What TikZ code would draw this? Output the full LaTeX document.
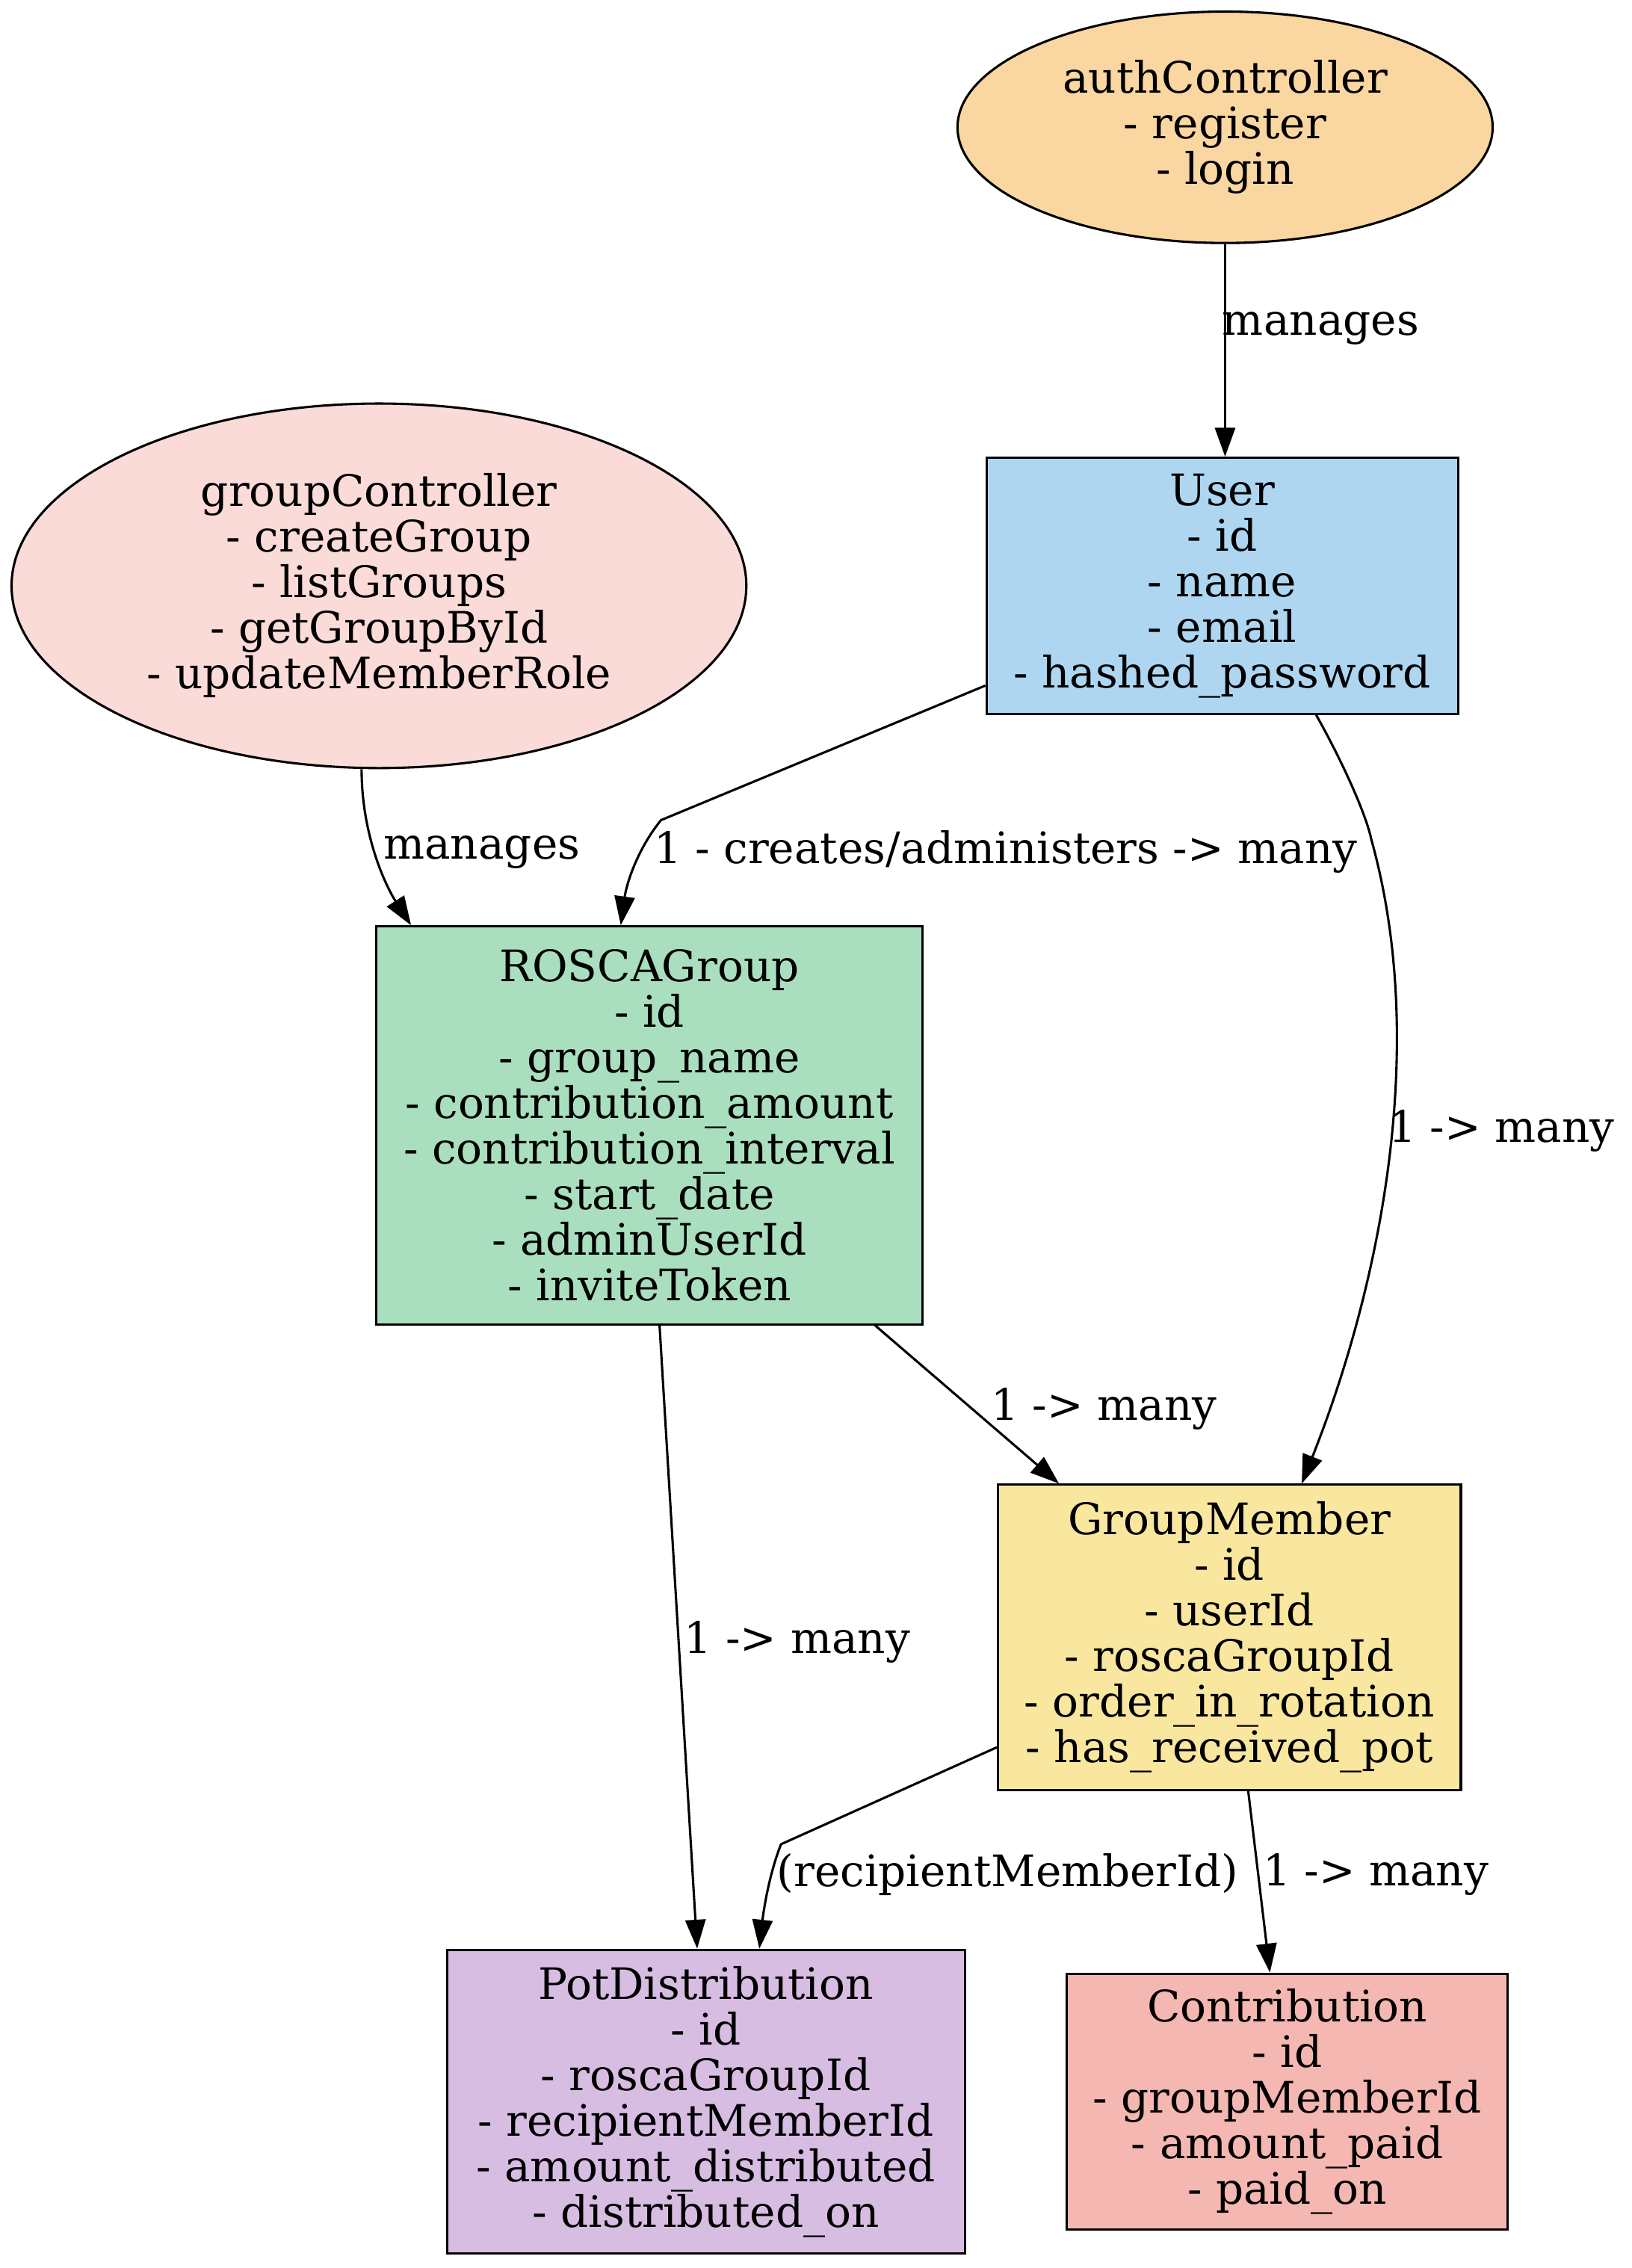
\documentclass[tikz,border=0pt]{standalone}
\usepackage{fontspec}
\setmainfont{DejaVu Serif}
\usetikzlibrary{arrows.meta,calc,shapes.geometric}
\definecolor{cAuth}{HTML}{FAD7A0}
\definecolor{cUser}{HTML}{AED6F1}
\definecolor{cGroup}{HTML}{FADBD8}
\definecolor{cRosca}{HTML}{A9DFBF}
\definecolor{cGM}{HTML}{F9E79F}
\definecolor{cPot}{HTML}{D7BDE2}
\definecolor{cContrib}{HTML}{F5B7B1}
\tikzset{
  every node/.style={font=\fontsize{30}{31.5}\selectfont, align=center},
  box/.style={draw, line width=1.6pt, rectangle, inner sep=0pt},
  ell/.style={draw, line width=1.6pt, ellipse, inner sep=0pt},
  edge/.style={draw, line width=1.6pt, -{Triangle[length=20pt,width=14pt]}},
  lbl/.style={anchor=west, inner sep=0pt, yshift=-4pt}
}
\begin{document}
\begin{tikzpicture}[x=1pt,y=1pt]
\useasboundingbox (0,0) rectangle (1128,-1568);
\node[ell, fill=cAuth, minimum width=370, minimum height=160] (auth) at (847,-88) {authController\\- register\\- login};
\node[box, fill=cUser, minimum width=326, minimum height=177] (user) at (845,-405) {User\\- id\\- name\\- email\\- hashed\_password};
\node[ell, fill=cGroup, minimum width=508, minimum height=252] (gc) at (262,-405) {groupController\\- createGroup\\- listGroups\\- getGroupById\\- updateMemberRole};
\node[box, fill=cRosca, minimum width=378, minimum height=275] (rosca) at (449,-778) {ROSCAGroup\\- id\\- group\_name\\- contribution\_amount\\- contribution\_interval\\- start\_date\\- adminUserId\\- inviteToken};
\node[box, fill=cGM, minimum width=320, minimum height=211] (gm) at (850,-1132) {GroupMember\\- id\\- userId\\- roscaGroupId\\- order\_in\_rotation\\- has\_received\_pot};
\node[box, fill=cPot, minimum width=358, minimum height=210] (pot) at (488,-1453) {PotDistribution\\- id\\- roscaGroupId\\- recipientMemberId\\- amount\_distributed\\- distributed\_on};
\node[box, fill=cContrib, minimum width=305, minimum height=177] (contrib) at (890,-1453) {Contribution\\- id\\- groupMemberId\\- amount\_paid\\- paid\_on};

\coordinate (kink1) at (457,-567);
\coordinate (kink2) at (540,-1275);

% auth -> user
\draw[edge] (auth.south) -- (auth.south |- user.north);
\node[lbl] (l1) at (845,-223) {manages};
% group -> rosca
\draw[edge] ($(gc.south)+(-12,0)$) .. controls +(0,-45) and +(-18,28) .. ($(rosca.north west)+(25,0)$);
\node[lbl] (l2) at (265,-585) {manages};
% user -> rosca
\draw[edge] ($(user.west)+(0,-69)$) -- (kink1) .. controls (440,-588) and (433,-612) .. ($(rosca.north west)+(170,0)$);
\node[lbl] (l3) at (452,-585) {1 - creates/administers -> many};
% user -> gm
\draw[edge] ($(user.south)+(65,0)$) .. controls (930,-530) and (945,-565) .. (948,-580) .. controls (990,-730) and (950,-900) .. ($(gm.north)+(50,0)$);
\node[lbl] (l4) at (960,-778) {1 -> many};
% rosca -> gm
\draw[edge] ($(rosca.south)+(156,0)$) -- ($(gm.north west)+(43,0)$);
\node[lbl] (l5) at (685,-970) {1 -> many};
% rosca -> pot
\draw[edge] ($(rosca.south)+(7,0)$) -- ($(pot.north)+(-6,0)$);
\node[lbl] (l6) at (473,-1131) {1 -> many};
% gm -> pot
\draw[edge] ($(gm.west)+(0,-76)$) -- (kink2) .. controls (532,-1295) and (528,-1320) .. ($(pot.north)+(37,0)$);
\node[lbl] (l7) at (537,-1292) {(recipientMemberId)};
% gm -> contrib
\draw[edge] ($(gm.south)+(13,0)$) -- ($(contrib.north)+(-12,0)$);
\node[lbl] (l8) at (873,-1292) {1 -> many};
\end{tikzpicture}
\end{document}
